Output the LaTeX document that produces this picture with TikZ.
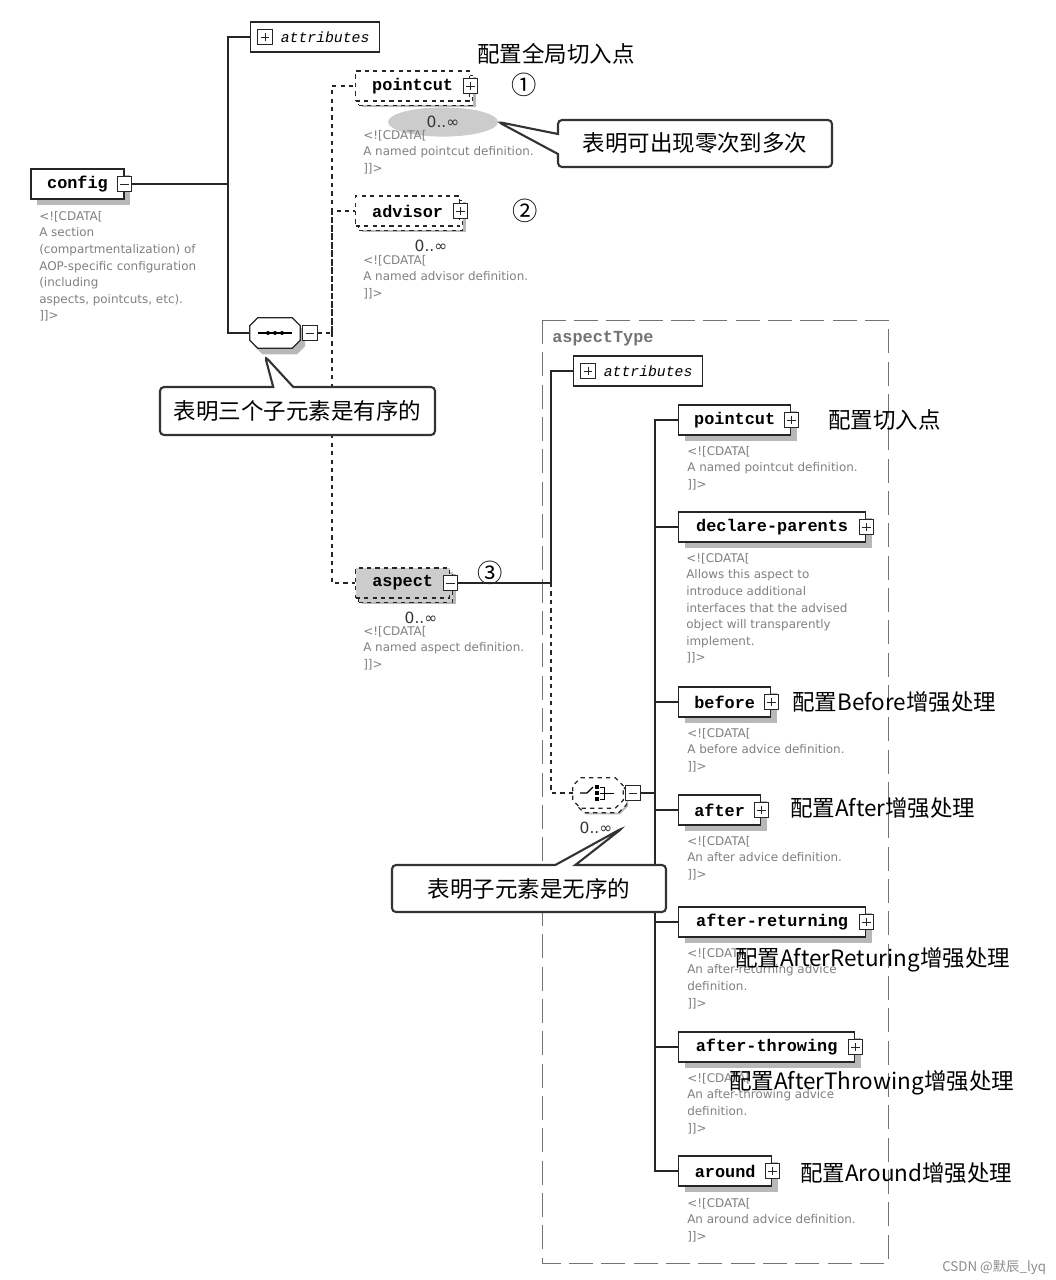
\documentclass[tikz,border=0pt]{standalone}
\usepackage{fontspec}
\usepackage{tikz}
\usetikzlibrary{positioning,shapes.geometric,shapes.callouts,shadows}

\newfontfamily\cjk{Noto Sans CJK SC}
\newfontfamily\monofam{Liberation Mono}
\newfontfamily\notefam{DejaVu Sans}

\begin{document}
\begin{tikzpicture}[x=0.25mm, y=-0.25mm,
  elem/.style={draw=black!85, fill=white, line width=0.9pt, minimum height=7.5mm, inner sep=0pt,
    font=\monofam\bfseries\fontsize{12}{14}\selectfont,
    drop shadow={shadow xshift=1.5mm, shadow yshift=-1.6mm, fill=black!28, opacity=1}},
  many/.style={general shadow={draw=black!85, line width=0.9pt, dashed, fill=#1, shadow xshift=0.8mm, shadow yshift=-1.1mm}},
  many/.default=white,
  attrbox/.style={draw=black!85, fill=white, line width=0.9pt, minimum height=7.5mm, inner sep=0pt,
    font=\monofam\itshape\fontsize{10.5}{12}\selectfont},
  plusicon/.style={draw=black!85, fill=white, line width=0.7pt, minimum size=3.6mm, inner sep=0pt,
    path picture={\draw[line width=0.7pt] ([xshift=0.7mm]path picture bounding box.west) -- ([xshift=-0.7mm]path picture bounding box.east)
      ([yshift=-0.7mm]path picture bounding box.north) -- ([yshift=0.7mm]path picture bounding box.south);}},
  minusicon/.style={draw=black!85, fill=white, line width=0.7pt, minimum size=3.6mm, inner sep=0pt,
    path picture={\draw[line width=0.7pt] ([xshift=0.7mm]path picture bounding box.west) -- ([xshift=-0.7mm]path picture bounding box.east);}},
  compbox/.style={minimum width=12.5mm, minimum height=7.5mm, inner sep=0pt},
  comp/.style={draw=black!85, fill=white, line width=0.9pt,
    drop shadow={shadow xshift=1.2mm, shadow yshift=-1.5mm, fill=black!28, opacity=1}},
  link/.style={draw=black!85, line width=0.9pt},
  optlink/.style={link, dashed},
  occ/.style={font=\notefam\fontsize{11}{13}\selectfont, text=black!80, inner sep=0pt},
  cdata/.style={font=\notefam\fontsize{8.5}{11.8}\selectfont, text=black!50, align=left, anchor=north west, inner sep=0pt},
  note/.style={font=\cjk\fontsize{16}{19}\selectfont, inner sep=0pt, anchor=west},
  callnote/.style={rectangle callout, draw=black!80, line width=1.5pt, fill=white, rounded corners=1mm,
    font=\cjk\fontsize{16}{19}\selectfont, minimum width=68.5mm, minimum height=11.75mm, callout pointer width=5mm},
  num/.style={font=\cjk\fontsize{18}{20}\selectfont, inner sep=0pt}]
\useasboundingbox (0,0) rectangle (1056,1280);

% aspectType frame
\draw[black!55, line width=0.6pt, dash pattern=on 17pt off 6pt] (542,320) rectangle (888,1263);
\node[font=\monofam\bfseries\fontsize{12}{14}\selectfont, text=black!55, anchor=west, inner sep=0pt] (atype) at (552,339) {aspectType};

% config and its sequence
\node[elem, minimum width=23.25mm] (cfg) at (77.5,184) {config};
\node[minusicon] (cfg-m) at (cfg.east) {};
\node[attrbox, anchor=west, minimum width=32.25mm] (attr1) at (250,37) {\hspace{5mm}attributes};
\node[plusicon] (attr1-p) at ([xshift=3.75mm]attr1.west) {};
\node[compbox] (seq) at (275,333) {};
\filldraw[comp] ([xshift=2mm]seq.north west) -- ([xshift=-2mm]seq.north east) -- ([yshift=-2mm]seq.north east)
  -- ([yshift=2mm]seq.south east) -- ([xshift=-2mm]seq.south east) -- ([xshift=2mm]seq.south west)
  -- ([yshift=2mm]seq.south west) -- ([yshift=-2mm]seq.north west) -- cycle;
\draw[line width=0.8pt] ([xshift=2mm]seq.west) -- ([xshift=-2mm]seq.east);
\foreach \dx in {-1.75,0,1.75}
  \fill ([xshift=\dx mm]seq.center) circle (0.5mm);
\node[minusicon, anchor=west] (seq-m) at ([xshift=0.5mm]seq.east) {};
\coordinate (cbus) at (228,184);
\draw[link] (cfg-m.east) -- (cbus) |- (attr1.west);
\draw[link] (cbus) |- (seq.west);

% pointcut, advisor, aspect (optional)
\node[elem, dashed, many, anchor=west, minimum width=28.5mm] (pc1) at (355,86) {pointcut};
\node[plusicon] (pc1-p) at (pc1.east) {};
\node[elem, dashed, many, anchor=west, minimum width=26mm] (adv1) at (355,211) {advisor};
\node[plusicon] (adv1-p) at (adv1.east) {};
\node[elem, dashed, many=black!20, fill=black!20, anchor=west, minimum width=23.5mm] (asp) at (355,583) {aspect};
\node[minusicon] (asp-m) at (asp.east) {};
\coordinate (sbus) at (332,333);
\draw[optlink] (seq-m.east) -- (sbus) |- (pc1.west);
\draw[optlink] (sbus) |- (adv1.west);
\draw[optlink] (sbus) |- (asp.west);

% occurrences
\node[ellipse, fill=black!20, minimum width=27.5mm, minimum height=7.3mm, occ] (occ1) at (443,122) {0..∞};
\node[occ] (occ2) at (431,246) {0..∞};
\node[occ] (occ4) at (421,618) {0..∞};
\node[num] (n1) at (524,85) {①};
\node[num] (n2) at (525,211) {②};
\node[num] (n3) at (490,573) {③};

% aspectType content
\node[attrbox, anchor=west, minimum width=32.25mm] (attr2) at (573,371) {\hspace{5mm}attributes};
\node[plusicon] (attr2-p) at ([xshift=3.75mm]attr2.west) {};
\coordinate (abus) at (551,583);
\draw[link] (asp-m.east) -- (abus) |- (attr2.west);
\node[compbox] (choice) at (598,793) {};
\filldraw[comp, dashed, many] ([xshift=2mm]choice.north west) -- ([xshift=-2mm]choice.north east) -- ([yshift=-2mm]choice.north east)
  -- ([yshift=2mm]choice.south east) -- ([xshift=-2mm]choice.south east) -- ([xshift=2mm]choice.south west)
  -- ([yshift=2mm]choice.south west) -- ([yshift=-2mm]choice.north west) -- cycle;
\draw[line width=0.8pt] ([xshift=-4.5mm]choice.center) -- ([xshift=-2.75mm]choice.center) -- ([xshift=-1.25mm, yshift=1.5mm]choice.center);
\foreach \dy in {-1.5,0,1.5}
  \fill ([xshift=-0.2mm, yshift=\dy mm]choice.center) +(-0.5mm,-0.5mm) rectangle +(0.5mm,0.5mm);
\draw[line width=0.7pt] ([xshift=0.6mm, yshift=1.5mm]choice.center) -| ([xshift=1.6mm, yshift=-1.5mm]choice.center) -- ([xshift=0.6mm, yshift=-1.5mm]choice.center)
  ([xshift=0.6mm]choice.center) -- ([xshift=3.9mm]choice.center);
\node[minusicon, anchor=west] (choice-m) at ([xshift=0.5mm]choice.east) {};
\draw[optlink] (abus) |- (choice.west);
\node[occ] (occ3) at (596,828) {0..∞};
\coordinate (cbus2) at (655,793);
\draw[link] (choice-m.east) -- (cbus2);

% choice children
\node[elem, anchor=west, minimum width=28mm] (pc2) at (678,420) {pointcut};
\node[plusicon] (pc2-p) at (pc2.east) {};
\node[elem, anchor=west, minimum width=46.75mm] (dp) at (678,527) {declare-parents};
\node[plusicon] (dp-p) at (dp.east) {};
\node[elem, anchor=west, minimum width=23mm] (bef) at (678,702) {before};
\node[plusicon] (bef-p) at (bef.east) {};
\node[elem, anchor=west, minimum width=20.5mm] (aft) at (678,810) {after};
\node[plusicon] (aft-p) at (aft.east) {};
\node[elem, anchor=west, minimum width=46.75mm] (aret) at (678,922) {after-returning};
\node[plusicon] (aret-p) at (aret.east) {};
\node[elem, anchor=west, minimum width=44mm] (athr) at (678,1047) {after-throwing};
\node[plusicon] (athr-p) at (athr.east) {};
\node[elem, anchor=west, minimum width=23.25mm] (aro) at (678,1171) {around};
\node[plusicon] (aro-p) at (aro.east) {};
\draw[link] (cbus2) |- (pc2.west);
\draw[link] (cbus2) |- (dp.west);
\draw[link] (cbus2) |- (bef.west);
\draw[link] (cbus2) |- (aft.west);
\draw[link] (cbus2) |- (aret.west);
\draw[link] (cbus2) |- (athr.west);
\draw[link] (cbus2) |- (aro.west);

% documentation texts
\node[cdata] (cfg-d) at (39,211) {<![CDATA[\\A section\\(compartmentalization) of\\AOP-specific configuration\\(including\\aspects, pointcuts, etc).\\]]>};
\node[cdata] (pc1-d) at (363,130) {<![CDATA[\\A named pointcut definition.\\]]>};
\node[cdata] (adv1-d) at (363,255) {<![CDATA[\\A named advisor definition.\\]]>};
\node[cdata] (asp-d) at (363,626) {<![CDATA[\\A named aspect definition.\\]]>};
\node[cdata] (pc2-d) at (687,446) {<![CDATA[\\A named pointcut definition.\\]]>};
\node[cdata] (dp-d) at (686,553) {<![CDATA[\\Allows this aspect to\\introduce additional\\interfaces that the advised\\object will transparently\\implement.\\]]>};
\node[cdata] (bef-d) at (687,728) {<![CDATA[\\A before advice definition.\\]]>};
\node[cdata] (aft-d) at (687,836) {<![CDATA[\\An after advice definition.\\]]>};
\node[cdata] (aret-d) at (687,948) {<![CDATA[\\An after-returning advice\\definition.\\]]>};
\node[cdata] (athr-d) at (687,1073) {<![CDATA[\\An after-throwing advice\\definition.\\]]>};
\node[cdata] (aro-d) at (687,1198) {<![CDATA[\\An around advice definition.\\]]>};

% notes
\node[note] (t1) at (477,54) {配置全局切入点};
\node[note] (t2) at (828,420) {配置切入点};
\node[note] (t3) at (792,702) {配置Before增强处理};
\node[note] (t4) at (790,808) {配置After增强处理};
\node[note] (t5) at (735,960) {配置AfterReturing增强处理};
\node[note] (t6) at (729,1083) {配置AfterThrowing增强处理};
\node[note] (t7) at (800,1173) {配置Around增强处理};

% callouts
\node[callnote, callout absolute pointer={(occ1.east)}] (cl1) at (695,143.5) {表明可出现零次到多次};
\node[callnote, minimum width=68.75mm, minimum height=12mm, callout absolute pointer={([xshift=-2.5mm,yshift=-2mm]seq.south)}] (cl2) at (297.5,411) {表明三个子元素是有序的};
\node[callnote, callout absolute pointer={([xshift=2.5mm]occ3.east)}] (cl3) at (529,888.5) {表明子元素是无序的};

\node[font=\cjk\fontsize{9.5}{11}\selectfont, text=black!45, anchor=west, inner sep=0pt] (mark) at (942,1267) {CSDN @默辰\_lyq};
\end{tikzpicture}
\end{document}
